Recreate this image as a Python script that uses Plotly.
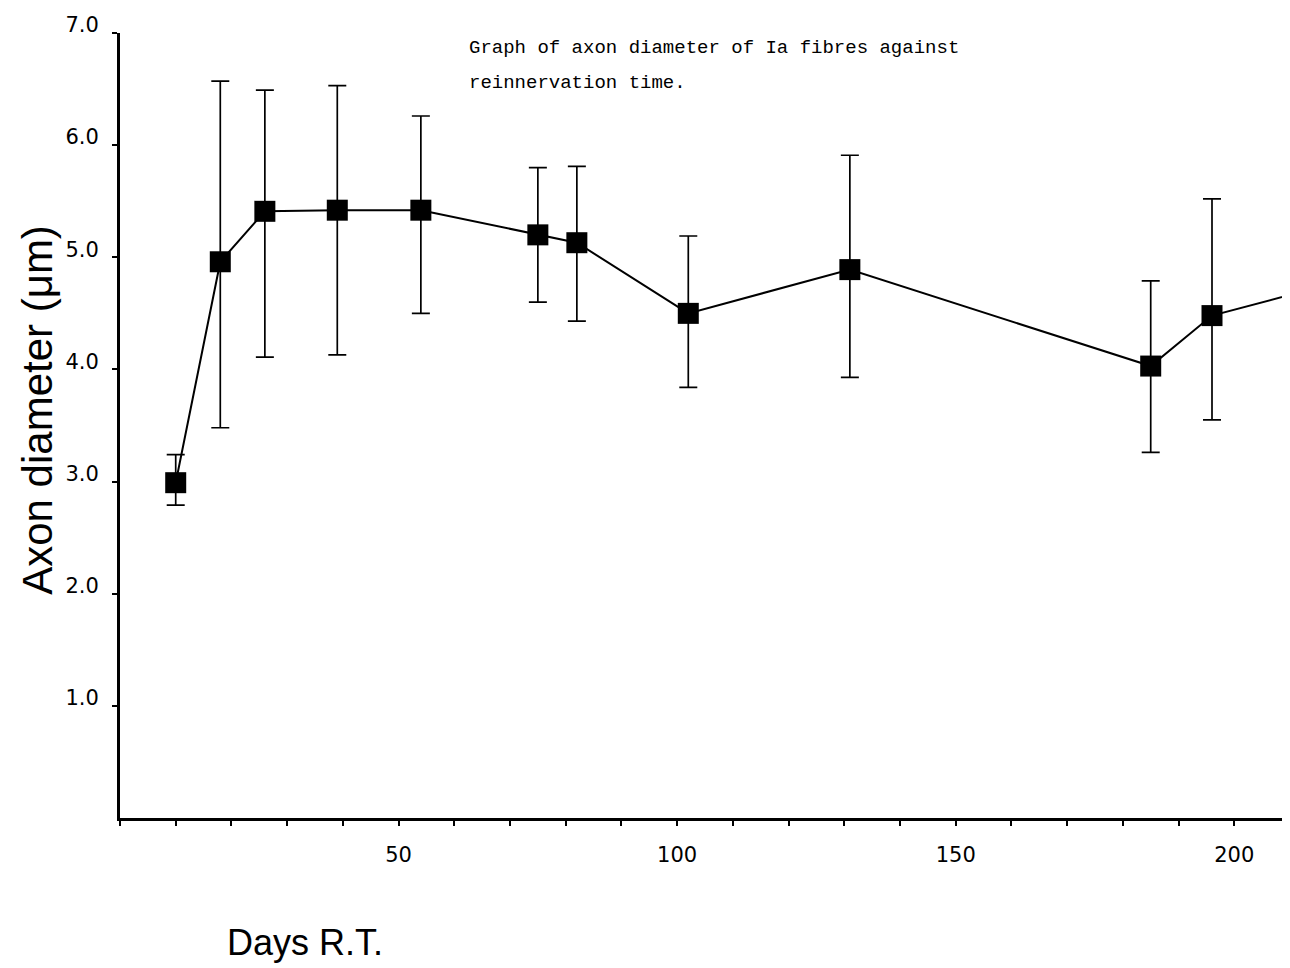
import plotly.graph_objects as go

# Data
days = [10, 18, 26, 39, 54, 75, 82, 102, 131, 185, 196, 215]
diameter = [2.99, 4.96, 5.41, 5.42, 5.42, 5.20, 5.13, 4.50, 4.89, 4.03, 4.48, 4.73]
err_upper = [3.24, 6.57, 6.49, 6.53, 6.26, 5.80, 5.81, 5.19, 5.91, 4.79, 5.52, 4.73]
err_lower = [2.79, 3.48, 4.11, 4.13, 4.50, 4.60, 4.43, 3.84, 3.93, 3.26, 3.55, 4.73]

y_tickvals = [1, 2, 3, 4, 5, 6, 7]
y_ticktext = ["1.0", "2.0", "3.0", "4.0", "5.0", "6.0", "7.0"]
x_tickvals = [50, 100, 150, 200]

title_lines = ["Graph of axon diameter of Ia fibres against", "reinnervation time."]
x_title = "Days R.T."
y_title = "Axon diameter (μm)"

plus = [u - d for u, d in zip(err_upper, diameter)]
minus = [d - l for d, l in zip(diameter, err_lower)]

fig = go.Figure()
fig.add_trace(go.Scatter(
    x=days, y=diameter,
    mode="lines+markers",
    line=dict(color="black", width=2),
    marker=dict(symbol="square", size=21, color="black"),
    error_y=dict(type="data", symmetric=False, array=plus, arrayminus=minus,
                 color="black", thickness=1.7, width=9),
    cliponaxis=True,
    showlegend=False,
))

sans = "Liberation Sans"
tickfont = dict(family="DejaVu Sans", size=21, color="black")
fig.update_layout(
    width=1282, height=960,
    paper_bgcolor="white", plot_bgcolor="white",
    margin=dict(l=112, r=0, t=25, b=150),
    xaxis=dict(
        range=[0, 210], showgrid=False, zeroline=False,
        showline=True, linecolor="black", linewidth=3,
        ticks="outside", ticklen=5, tickwidth=1.5, tickcolor="black",
        tickvals=x_tickvals, ticktext=[str(v) for v in x_tickvals],
        tickfont=tickfont,
        ticklabelstandoff=11,
        minor=dict(dtick=10, tick0=0, ticks="outside", ticklen=5, tickwidth=1.5, tickcolor="black"),
    ),
    yaxis=dict(
        range=[0, 7], showgrid=False, zeroline=False,
        showline=True, linecolor="black", linewidth=3,
        ticks="outside", ticklen=5, tickwidth=1.5, tickcolor="black",
        tickvals=y_tickvals, ticktext=y_ticktext,
        tickfont=tickfont,
        ticklabelstandoff=9, ticklabelshift=-8,
    ),
)

fig.add_annotation(text=y_title, xref="paper", yref="paper", x=-0.0701, y=0.52,
                   xanchor="center", yanchor="middle", textangle=-90, showarrow=False,
                   font=dict(family=sans, size=42, color="black"))
fig.add_annotation(text=x_title, xref="paper", yref="paper", x=0.0897, y=-0.158,
                   xanchor="left", yanchor="middle", showarrow=False,
                   font=dict(family=sans, size=36, color="black"))
for i, line in enumerate(title_lines):
    fig.add_annotation(text=line, xref="paper", yref="paper", x=0.2966, y=0.981 - i * 0.0446,
                       xanchor="left", yanchor="middle", showarrow=False,
                       font=dict(family="Courier New, Liberation Mono, monospace", size=19, color="black"))

fig.write_html("out.html")
